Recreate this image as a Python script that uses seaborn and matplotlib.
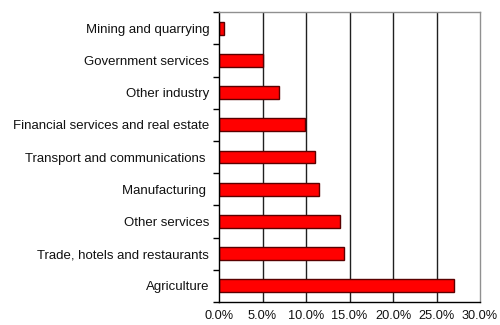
import matplotlib
matplotlib.use("Agg")
import matplotlib.pyplot as plt
import seaborn as sns
import pandas as pd
import numpy as np
from matplotlib.ticker import FixedLocator, PercentFormatter

sectors = [
    "Mining and quarrying",
    "Government services",
    "Other industry",
    "Financial services and real estate",
    "Transport and communications ",
    "Manufacturing ",
    "Other services",
    "Trade, hotels and restaurants",
    "Agriculture",
]
shares = [0.6, 5.0, 6.9, 9.9, 11.0, 11.5, 13.9, 14.4, 27.0]
x_ticks = [0, 5, 10, 15, 20, 25, 30]

sns.set_theme(style="white")
plt.rcParams["font.family"] = ["Liberation Sans", "DejaVu Sans"]

df = pd.DataFrame({"sector": sectors, "share": shares})

fig = plt.figure(figsize=(5, 3.25), dpi=100)
ax = fig.add_axes([0.438, 0.0708, 0.522, 0.892])

# vertical gridlines behind the bars
for v in x_ticks[1:-1]:
    ax.axvline(v, color="#202020", linewidth=1.0, zorder=0)

sns.barplot(data=df, x="share", y="sector", order=sectors, orient="h",
            color="#ff0000", saturation=1, width=0.4,
            edgecolor="#5a0000", linewidth=1.0, ax=ax, zorder=2)

ax.set_xlim(0, 30)
ax.set_ylim(len(sectors) - 0.5, -0.5)
ax.set_xlabel("")
ax.set_ylabel("")

ax.xaxis.set_major_locator(FixedLocator(x_ticks))
ax.xaxis.set_major_formatter(PercentFormatter(decimals=1))
ax.tick_params(axis="x", which="major", direction="out", length=3,
               width=1, color="black", labelsize=9.2, pad=3,
               labelcolor="#111111")

# category ticks sit between bars, labels at bar centres
ax.yaxis.set_minor_locator(FixedLocator(np.arange(-0.5, len(sectors), 1.0)))
ax.tick_params(axis="y", which="major", length=0, labelsize=9.5, pad=7,
               labelcolor="#111111")
ax.tick_params(axis="y", which="minor", direction="out", length=4,
               width=1, color="black", left=True)

for side in ["left", "bottom"]:
    ax.spines[side].set_color("black")
    ax.spines[side].set_linewidth(1.0)
for side in ["top", "right"]:
    ax.spines[side].set_color("#909090")
    ax.spines[side].set_linewidth(1.0)

fig.savefig("out.png", dpi=100)
